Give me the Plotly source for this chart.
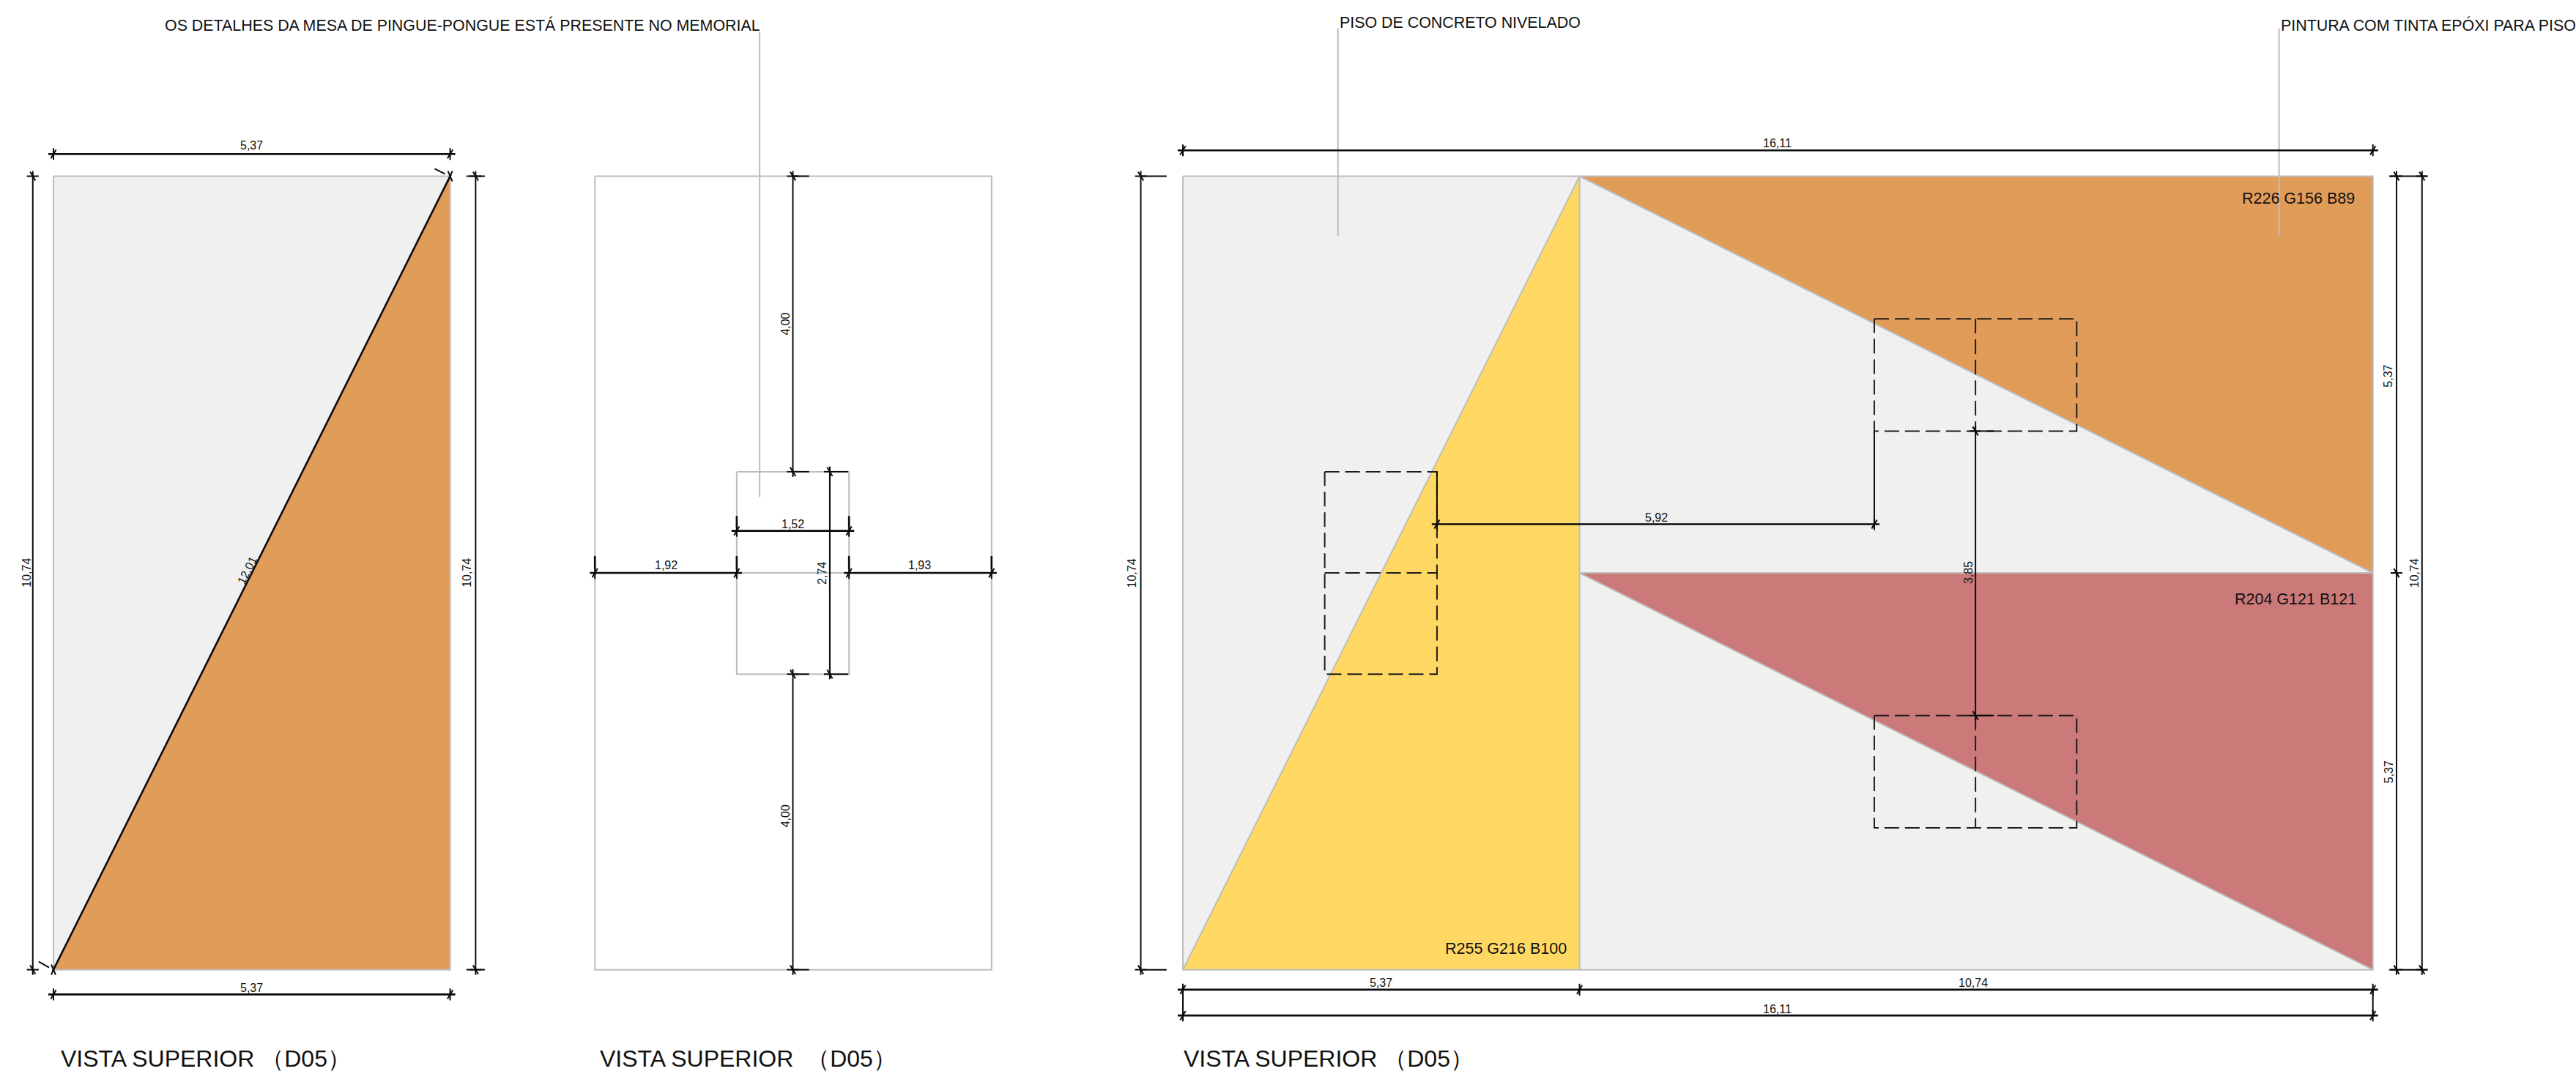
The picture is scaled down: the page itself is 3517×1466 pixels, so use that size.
import plotly.graph_objects as go

# Drawing units: metres. Origin = top-left corner of the first view.
PX_PER_M = 100.85
ORIGIN_PX = (73.0, 240.5)
W, H = 3517, 1466

# Measured values
TABLE_W, TABLE_H = 5.37, 10.74
FULL_W = 16.11
HALF_H = 5.37
V2_X, V3_X = 7.33, 15.29
LEFT_GAP, INNER_W, RIGHT_GAP = 1.92, 1.52, 1.93
END_GAP, INNER_H = 4.00, 2.74

ORANGE = "rgb(226,156,89)"
RED = "rgb(204,121,121)"
YELLOW = "rgb(255,216,100)"
FLOOR = "#f0f0f0"
GREY = "#bdbdbd"
BLACK = "#0a0a0a"
FONT = "Liberation Sans"

DIM_LABELS_H = [  # text, x, y
    ("5,37", 2.68, -0.42), ("5,37", 2.68, 10.99),
    ("1,92", V2_X + 0.96, 5.27), ("1,93", V2_X + 4.40, 5.27), ("1,52", V2_X + 2.68, 4.71),
    ("16,11", V3_X + 8.05, -0.45), ("5,37", V3_X + 2.68, 10.92), ("10,74", V3_X + 10.70, 10.92),
    ("16,11", V3_X + 8.05, 11.27), ("5,92", V3_X + 6.41, 4.62),
]
DIM_LABELS_V = [
    ("10,74", -0.37, 5.37), ("10,74", 5.59, 5.37),
    ("4,00", V2_X + 2.58, 2.00), ("4,00", V2_X + 2.58, 8.66), ("2,74", V2_X + 3.07, 5.37),
    ("10,74", V3_X - 0.69, 5.37), ("5,37", V3_X + 16.32, 2.70), ("5,37", V3_X + 16.32, 8.06),
    ("10,74", V3_X + 16.67, 5.37), ("3,85", V3_X + 10.63, 5.37),
]
COLOR_LABELS = [
    ("R226 G156 B89", V3_X + 15.885, 0.30),
    ("R204 G121 B121", V3_X + 15.90, 5.73),
    ("R255 G216 B100", V3_X + 5.22, 10.46),
]
NOTES = [
    ("OS DETALHES DA MESA DE PINGUE-PONGUE ESTÁ PRESENTE NO MEMORIAL", 1.49, -2.04),
    ("PISO DE CONCRETO NIVELADO", V3_X + 2.10, -2.08),
    ("PINTURA COM TINTA EPÓXI PARA PISO", V3_X + 14.84, -2.04),
]
TITLES = [("VISTA SUPERIOR （D05）", 0.08), ("VISTA SUPERIOR\u00a0 （D05）", V2_X + 0.05), ("VISTA SUPERIOR （D05）", V3_X - 0.01)]
TITLE_Y = 11.94

fig = go.Figure()

def poly(x, y, color):
    fig.add_trace(go.Scatter(x=x, y=y, mode="lines", fill="toself", fillcolor=color,
                             line=dict(width=0, color=color), hoverinfo="skip", showlegend=False))

class Pen:
    def __init__(self):
        self.x, self.y = [], []
    def seg(self, x0, y0, x1, y1):
        self.x += [x0, x1, None]
        self.y += [y0, y1, None]
    def rect(self, x0, y0, x1, y1):
        self.x += [x0, x1, x1, x0, x0, None]
        self.y += [y0, y0, y1, y1, y0, None]
    def draw(self, color, width, dash=None):
        fig.add_trace(go.Scatter(x=self.x, y=self.y, mode="lines", hoverinfo="skip", showlegend=False,
                                 line=dict(color=color, width=width, dash=dash, shape="linear")))

grey, black, thin, dashed = Pen(), Pen(), Pen(), Pen()
OV, TK, SL = 0.07, 0.08, 0.06

def hdim(y, stops, pen=black, ticks=True):
    pen.seg(stops[0] - OV, y, stops[-1] + OV, y)
    for s in stops:
        thin.seg(s, y - TK, s, y + TK)
        thin.seg(s - SL * .6, y + SL, s + SL * .6, y - SL)

def vdim(x, stops, pen=thin):
    pen.seg(x, stops[0] - OV, x, stops[-1] + OV)
    for s in stops:
        thin.seg(x - TK, s, x + TK, s)
        thin.seg(x - SL * .6, s - SL, x + SL * .6, s + SL)

# ---------- view 1
poly([0, TABLE_W, TABLE_W, 0, 0], [0, 0, TABLE_H, TABLE_H, 0], FLOOR)
poly([0, TABLE_W, TABLE_W, 0], [TABLE_H, 0, TABLE_H, TABLE_H], ORANGE)
grey.rect(0, 0, TABLE_W, TABLE_H)
hdim(-0.30, [0, TABLE_W])
hdim(TABLE_H + 0.335, [0, TABLE_W])
vdim(-0.28, [0, TABLE_H])
vdim(TABLE_W + 0.345, [0, TABLE_H])
thin.seg(TABLE_W + 0.22, 0, TABLE_W + 0.47, 0)
thin.seg(TABLE_W + 0.22, TABLE_H, TABLE_W + 0.47, TABLE_H)
black.seg(-0.01, TABLE_H + 0.02, TABLE_W + 0.01, -0.02)
thin.seg(-0.03, TABLE_H - 0.07, 0.03, TABLE_H + 0.07)
thin.seg(-0.03, TABLE_H + 0.07, 0.03, TABLE_H - 0.07)
thin.seg(TABLE_W - 0.03, -0.07, TABLE_W + 0.03, 0.07)
thin.seg(TABLE_W - 0.03, 0.07, TABLE_W + 0.03, -0.07)
thin.seg(TABLE_W - 0.21, -0.10, TABLE_W - 0.07, -0.03)
thin.seg(-0.20, TABLE_H - 0.11, -0.06, TABLE_H - 0.03)

# ---------- view 2
x2 = V2_X
ix0, ix1 = x2 + LEFT_GAP, x2 + LEFT_GAP + INNER_W
iy0, iy1 = END_GAP, END_GAP + INNER_H
grey.rect(x2, 0, x2 + TABLE_W, TABLE_H)
grey.rect(ix0, iy0, ix1, iy1)
grey.seg(ix0, TABLE_H / 2, ix1, TABLE_H / 2)
grey.seg(x2 + 2.23, -1.95, x2 + 2.23, 4.34)
xc = x2 + 2.68
vdim(xc, [0, iy0]); vdim(xc, [iy1, TABLE_H])
for yy in (0, iy0, iy1, TABLE_H):
    thin.seg(xc, yy, xc + 0.22, yy)
xd = x2 + 3.18
vdim(xd, [iy0, iy1])
for yy in (iy0, iy1):
    thin.seg(xd + 0.08, yy, xd + 0.25, yy)
hdim(4.80, [ix0, ix1])
hdim(TABLE_H / 2, [x2, ix0]); hdim(TABLE_H / 2, [ix1, x2 + TABLE_W])
for xx, y0, y1 in ((ix0, 4.60, 4.75), (ix1, 4.60, 4.75), (x2, 5.14, 5.32), (ix0, 5.14, 5.32),
                   (ix1, 5.14, 5.32), (x2 + TABLE_W, 5.14, 5.32)):
    black.seg(xx, y0, xx, y1)

# ---------- view 3
x3 = V3_X
poly([x3, x3 + FULL_W, x3 + FULL_W, x3, x3], [0, 0, TABLE_H, TABLE_H, 0], FLOOR)
poly([x3 + TABLE_W, x3 + TABLE_W, x3], [0, TABLE_H, TABLE_H], YELLOW)
poly([x3 + TABLE_W, x3 + FULL_W, x3 + FULL_W], [0, 0, HALF_H], ORANGE)
poly([x3 + TABLE_W, x3 + FULL_W, x3 + FULL_W], [HALF_H, HALF_H, TABLE_H], RED)
grey.rect(x3, 0, x3 + FULL_W, TABLE_H)
grey.seg(x3 + TABLE_W, 0, x3 + TABLE_W, TABLE_H)
grey.seg(x3 + TABLE_W, HALF_H, x3 + FULL_W, HALF_H)
grey.seg(x3, TABLE_H, x3 + TABLE_W, 0)
grey.seg(x3 + TABLE_W, 0, x3 + FULL_W, HALF_H)
grey.seg(x3 + TABLE_W, HALF_H, x3 + FULL_W, TABLE_H)
grey.seg(x3 + 2.10, -2.00, x3 + 2.10, 0.81)
grey.seg(x3 + 14.84, -2.00, x3 + 14.84, 0.81)

hdim(-0.35, [x3, x3 + FULL_W])
vdim(x3 - 0.57, [0, TABLE_H])
thin.seg(x3 - 0.57, 0, x3 - 0.22, 0); thin.seg(x3 - 0.57, TABLE_H, x3 - 0.22, TABLE_H)
vdim(x3 + FULL_W + 0.32, [0, HALF_H, TABLE_H])
vdim(x3 + FULL_W + 0.665, [0, TABLE_H])
thin.seg(x3 + FULL_W + 0.22, 0, x3 + FULL_W + 0.73, 0)
thin.seg(x3 + FULL_W + 0.22, TABLE_H, x3 + FULL_W + 0.73, TABLE_H)
hdim(TABLE_H + 0.27, [x3, x3 + TABLE_W, x3 + FULL_W])
hdim(TABLE_H + 0.62, [x3, x3 + FULL_W])
thin.seg(x3, TABLE_H + 0.27, x3, TABLE_H + 0.62)
thin.seg(x3 + FULL_W, TABLE_H + 0.27, x3 + FULL_W, TABLE_H + 0.62)

# hidden ping-pong tables
dx0, dxm, dx1 = x3 + 9.36, x3 + 10.73, x3 + 12.10
for y0, y1 in ((1.93, 3.45), (7.30, 8.82)):
    dashed.rect(dx0, y0, dx1, y1)
    dashed.seg(dxm, y0, dxm, y1)
lx0, lx1 = x3 + 1.92, x3 + 3.44
dashed.rect(lx0, 4.00, lx1, 6.74)
dashed.seg(lx0, 5.37, lx1, 5.37)

hdim(4.71, [lx1, dx0])
thin.seg(lx1, 4.00, lx1, 4.71)
thin.seg(dx0, 3.45, dx0, 4.71)
vdim(dxm, [3.45, 7.30])
for yy in (3.45, 7.30):
    thin.seg(dxm + 0.08, yy, dxm + 0.25, yy)

grey.draw(GREY, 2)
dashed.draw("#1c1c1c", 2, "20px,8px")
black.draw(BLACK, 2.6)
thin.draw(BLACK, 2)

def note(text, x, y, size, anchor="center", angle=0):
    fig.add_annotation(x=x, y=y, text=text, showarrow=False, xanchor=anchor, yanchor="middle",
                       textangle=angle, font=dict(family=FONT, size=size, color="#111111"))

for t, x, y in DIM_LABELS_H:
    note(t, x, y, 16)
for t, x, y in DIM_LABELS_V:
    note(t, x, y, 16, angle=-90)
note("12,01", 2.62, 5.33, 16, angle=-63.4)
for t, x, y in COLOR_LABELS:
    note(t, x, y, 21.5, anchor="right")
for t, x, y in NOTES:
    note(t, x, y, 21.4, anchor="left")
for t, x in TITLES:
    note(t, x, TITLE_Y, 32, anchor="left")

x_rng = [-ORIGIN_PX[0] / PX_PER_M, (W - ORIGIN_PX[0]) / PX_PER_M]
y_rng = [(H - ORIGIN_PX[1]) / PX_PER_M, -ORIGIN_PX[1] / PX_PER_M]
fig.update_layout(width=W, height=H, margin=dict(l=0, r=0, t=0, b=0), autosize=False,
                  paper_bgcolor="white", plot_bgcolor="white", showlegend=False,
                  xaxis=dict(range=x_rng, visible=False, fixedrange=True),
                  yaxis=dict(range=y_rng, visible=False, fixedrange=True))
fig.write_html("out.html", config={"displayModeBar": False},
               post_script="document.body.style.margin='0';document.documentElement.style.overflow='hidden';")
